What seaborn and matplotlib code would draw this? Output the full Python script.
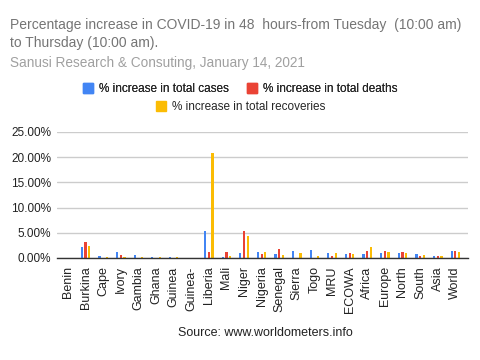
import matplotlib
matplotlib.use("Agg")
import matplotlib.pyplot as plt
from matplotlib.lines import Line2D
from matplotlib.ticker import FuncFormatter
import seaborn as sns
import pandas as pd

categories = ["Benin", "Burkina", "Cape", "Ivory", "Gambia", "Ghana", "Guinea", "Guinea-",
              "Liberia", "Mali", "Niger", "Nigeria", "Senegal", "Sierra", "Togo", "MRU",
              "ECOWA", "Africa", "Europe", "North", "South", "Asia", "World"]
cases = [0.0, 2.13, 0.40, 1.13, 0.60, 0.20, 0.20, 0.0, 5.40, 0.27, 0.93, 1.13, 0.80, 1.33,
         1.60, 0.93, 0.80, 0.80, 0.93, 0.93, 0.73, 0.40, 1.33]
deaths = [0.0, 3.27, 0.0, 0.53, 0.0, 0.0, 0.0, 0.0, 1.13, 1.20, 5.40, 0.73, 1.73, 0.0,
          0.0, 0.40, 0.93, 1.33, 1.33, 1.20, 0.40, 0.40, 1.33]
recoveries = [0.0, 2.47, 0.13, 0.27, 0.13, 0.20, 0.20, 0.0, 20.80, 0.40, 4.27, 1.13, 0.53, 0.93,
              0.40, 0.93, 0.73, 2.27, 1.13, 0.93, 0.53, 0.33, 1.13]
series_names = ["% increase in total cases", "% increase in total deaths",
                "% increase in total recoveries"]
colors = ["#4285F4", "#EA4335", "#FBBC04"]

rows = []
for name, vals in zip(series_names, [cases, deaths, recoveries]):
    for c, v in zip(categories, vals):
        rows.append({"cat": c, "series": name, "value": v})
df = pd.DataFrame(rows)

sns.set_theme(style="white")
plt.rcParams["font.family"] = ["Liberation Sans", "DejaVu Sans"]

fig = plt.figure(figsize=(4.8, 3.6), dpi=100)
ax = fig.add_axes([57/480, 1 - 258/360, (468 - 57)/480, (258 - 132)/360])

sns.barplot(data=df, x="cat", y="value", hue="series", order=categories,
            hue_order=series_names, palette=colors, width=0.63, gap=0.4,
            ax=ax, legend=False, saturation=1, linewidth=0, edgecolor="none",
            errorbar=None)

ax.set_ylim(0, 25)
ax.set_yticks([0, 5, 10, 15, 20, 25])
ax.yaxis.set_major_formatter(FuncFormatter(lambda v, p: f"{v:.2f}%"))
ax.set_xlim(-0.62, 22.72)
ax.grid(axis="y", color="#cccccc", linewidth=1)
ax.set_axisbelow(True)
for s in ["top", "right", "left"]:
    ax.spines[s].set_visible(False)
ax.spines["bottom"].set_color("#333333")
ax.spines["bottom"].set_linewidth(1)
ax.set_xlabel("")
ax.set_ylabel("")
ax.tick_params(axis="y", labelsize=8.5, colors="#222222", length=0, pad=4)
ax.tick_params(axis="x", labelsize=9, colors="#222222", length=0, pad=6, rotation=90)

fig.text(10/480, 1 - 25/360, "Percentage increase in COVID-19 in 48  hours-from Tuesday  (10:00 am)",
         fontsize=10.0, color="#757575", va="center", ha="left")
fig.text(10/480, 1 - 43/360, "to Thursday (10:00 am).",
         fontsize=10.0, color="#757575", va="center", ha="left")
fig.text(10/480, 1 - 63/360, "Sanusi Research & Consuting, January 14, 2021",
         fontsize=9.8, color="#a0a0a0", va="center", ha="left")

def handle(c):
    return Line2D([0], [0], marker="s", linestyle="none", markersize=7,
                  markerfacecolor=c, markeredgecolor=c)

leg1 = fig.legend([handle(colors[0]), handle(colors[1])], series_names[:2],
                  loc="center", bbox_to_anchor=(240/480, 1 - 89/360), ncol=2, frameon=False,
                  fontsize=8.5, handletextpad=0.4, columnspacing=1.5, handlelength=1)
leg2 = fig.legend([handle(colors[2])], series_names[2:],
                  loc="center", bbox_to_anchor=(240/480, 1 - 107/360), ncol=1, frameon=False,
                  fontsize=8.5, handletextpad=0.4, handlelength=1)
fig.add_artist(leg1)

fig.text(265/480, 1 - 333/360, "Source: www.worldometers.info", fontsize=9,
         color="#222222", ha="center", va="center")

fig.savefig("out.png", dpi=100)
